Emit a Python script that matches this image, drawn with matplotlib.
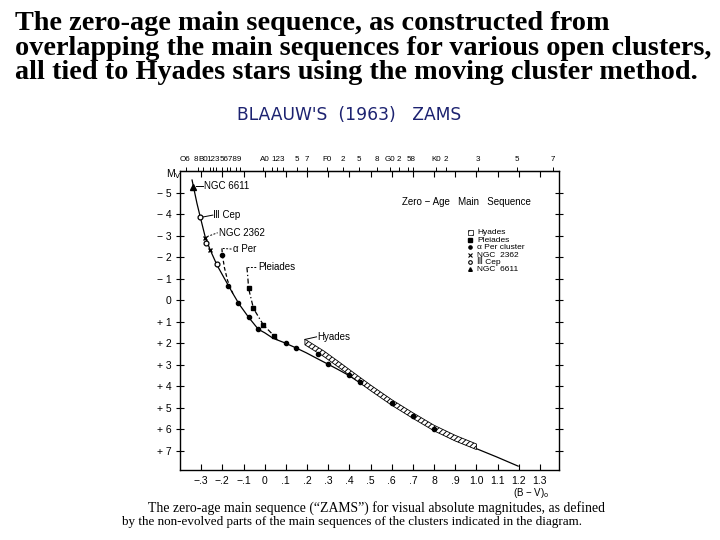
import numpy as np
import matplotlib
matplotlib.use('Agg')
from matplotlib import pyplot as plt
from matplotlib.patches import Polygon, Rectangle

# ---- data ----
# zero-age main sequence (solid line)
zams_bv = [-0.343, -0.335, -0.32, -0.304, -0.28, -0.256, -0.225, -0.19, -0.15, -0.12,
           -0.076, -0.03, 0.0, 0.04, 0.09, 0.147, 0.196, 0.246, 0.293, 0.345, 0.395,
           0.443, 0.498, 0.584, 0.686, 0.789, 0.89, 0.998, 1.095, 1.197]
zams_mv = [-5.58, -5.2, -4.5, -3.85, -2.9, -2.3, -1.62, -1.0, -0.3, 0.2,
           0.8, 1.36, 1.52, 1.78, 1.97, 2.22, 2.45, 2.71, 2.95, 3.22, 3.49,
           3.8, 4.15, 4.73, 5.35, 5.94, 6.48, 6.9, 7.29, 7.72]

# alpha Per branch (dashed)
aper_bv = [-0.202, -0.2, -0.19, -0.175, -0.15]
aper_mv = [-2.4, -2.1, -1.5, -0.9, -0.3]
aper_pts_bv = [-0.2, -0.175, -0.128, -0.076, -0.03, 0.1, 0.15, 0.25, 0.3, 0.4, 0.45, 0.6, 0.7, 0.8]
aper_pts_mv = [-2.1, -0.65, 0.12, 0.78, 1.36, 2.0, 2.22, 2.5, 2.95, 3.5, 3.8, 4.8, 5.4, 5.98]

# Pleiades branch (dash-dot)
plei_bv = [-0.084, -0.08, -0.076, -0.053, -0.006, 0.045, 0.06]
plei_mv = [-1.52, -1.1, -0.54, 0.39, 1.16, 1.67, 1.85]
plei_pts_bv = [-0.076, -0.053, -0.006, 0.045]
plei_pts_mv = [-0.54, 0.39, 1.16, 1.67]

# NGC 2362, III Cep, NGC 6611
n2362_bv = [-0.28, -0.257]
n2362_mv = [-2.9, -2.33]
cep_bv = [-0.304, -0.276, -0.225]
cep_mv = [-3.85, -2.64, -1.67]
n6611_bv = [-0.34]
n6611_mv = [-5.27]

# Hyades band (upper and lower edges)
hy_bv = [0.19, 0.28, 0.36, 0.44, 0.5, 0.6, 0.7, 0.8, 0.9, 1.0]
hy_up = [1.82, 2.37, 2.94, 3.52, 3.95, 4.63, 5.24, 5.82, 6.29, 6.69]
hy_lo = [2.08, 2.63, 3.2, 3.78, 4.21, 4.89, 5.5, 6.08, 6.55, 6.95]

# spectral types along the top: tick positions, and the (grouped) labels
sp_ticks = [-0.37, -0.315, -0.29, -0.257, -0.243, -0.229, -0.2, -0.18, -0.163, -0.134, -0.115,
            -0.007, 0.035, 0.06, 0.087, 0.153, 0.2, 0.295, 0.37, 0.446, 0.53,
            0.59, 0.634, 0.677, 0.70, 0.81, 0.856, 1.007, 1.19, 1.36]
sp_lab_pos = [-0.375, -0.325, -0.29, -0.242, -0.158, 0.0, 0.062, 0.153, 0.2, 0.295,
              0.37, 0.446, 0.53, 0.59, 0.634, 0.69, 0.81, 0.856, 1.007, 1.19, 1.36]
sp_lab = ['O6', '8', 'B0', '123', '56789', 'A0', '123', '5', '7', 'F0',
          '2', '5', '8', 'G0', '2', '58', 'K0', '2', '3', '5', '7']

bv_ticks = [round(-0.3 + 0.1 * i, 1) for i in range(17)]
bv_labels = ['\u2212.3', '\u2212.2', '\u2212.1', '0', '.1', '.2', '.3', '.4', '.5', '.6',
             '.7', '8', '.9', '1.0', '1.1', '1.2', '1.3']
mv_ticks = list(range(-5, 8))
mv_labels = ['\u2212 5', '\u2212 4', '\u2212 3', '\u2212 2', '\u2212 1', '0',
             '+ 1', '+ 2', '+ 3', '+ 4', '+ 5', '+ 6', '+ 7']

legend_names = ['Hyades', 'Pleiades', '\u03b1 Per cluster', 'NGC  2362', '\u2162 Cep', 'NGC  6611']
legend_y = [-3.15, -2.79, -2.45, -2.09, -1.78, -1.43]

sans = ['Liberation Sans Narrow', 'Liberation Sans', 'DejaVu Sans']
plt.rcParams['font.family'] = sans
plt.rcParams['hatch.linewidth'] = 0.7

fig = plt.figure(figsize=(7.2, 5.4), dpi=100)

# slide title
title_lines = ['The zero-age main sequence, as constructed from',
               'overlapping the main sequences for various open clusters,',
               'all tied to Hyades stars using the moving cluster method.']
for i, line in enumerate(title_lines):
    fig.text(15 / 720, 1 - [30, 55, 79][i] / 540, line, family='Liberation Serif',
             fontweight='bold', fontsize=20.3, va='baseline', ha='left')

# handwritten note
fig.text(237 / 720, 1 - 115 / 540, "BLAAUW'S  (1963)   ZAMS",
         color='#1c2270', fontsize=12.3, va='center', ha='left', family='DejaVu Sans')

ax = fig.add_axes([180 / 720, 70 / 540, 379 / 720, 299 / 540])
ax.set_xlim(-0.4, 1.39)
ax.set_ylim(7.9, -6.0)

ax.plot(zams_bv, zams_mv, color='black', lw=0.9)
ax.plot(aper_bv, aper_mv, color='black', lw=0.9, ls=(0, (3, 2)))
ax.plot(plei_bv, plei_mv, color='black', lw=0.9, ls=(0, (4, 2, 1, 2)))

band = Polygon(list(zip(hy_bv, hy_up)) + list(zip(hy_bv[::-1], hy_lo[::-1])),
               closed=True, facecolor='white', edgecolor='black', hatch='//////',
               lw=0.6, zorder=2.5)
ax.add_patch(band)

ax.plot(aper_pts_bv, aper_pts_mv, 'o', color='black', ms=3, zorder=3)
ax.plot(plei_pts_bv, plei_pts_mv, 's', color='black', ms=3, zorder=3)
ax.plot(n2362_bv, n2362_mv, 'x', color='black', ms=3.5, mew=1, zorder=3)
ax.plot(cep_bv, cep_mv, 'o', mfc='white', mec='black', ms=3.5, mew=0.9, zorder=3)
ax.plot(n6611_bv, n6611_mv, '^', color='black', ms=4, zorder=3)

# cluster labels with leaders
fs = 7
ax.plot([-0.325, -0.29], [-5.32, -5.32], color='black', lw=0.7)
ax.text(-0.287, -5.32, 'NGC 6611', fontsize=fs, va='center')
ax.plot([-0.298, -0.245], [-3.85, -3.95], color='black', lw=0.7)
ax.text(-0.242, -3.95, '\u2162 Cep', fontsize=fs, va='center')
ax.plot([-0.272, -0.222], [-2.95, -3.13], color='black', lw=0.7, ls=(0, (2, 1.5)))
ax.text(-0.218, -3.13, 'NGC 2362', fontsize=fs, va='center')
ax.plot([-0.198, -0.155], [-2.4, -2.37], color='black', lw=0.7, ls=(0, (2, 1.5)))
ax.text(-0.151, -2.37, '\u03b1 Per', fontsize=fs, va='center')
ax.plot([-0.084, -0.035], [-1.52, -1.52], color='black', lw=0.7, ls=(0, (2, 1.5)))
ax.text(-0.031, -1.52, 'Pleiades', fontsize=fs, va='center')
ax.plot([0.19, 0.245], [1.83, 1.71], color='black', lw=0.7)
ax.text(0.249, 1.71, 'Hyades', fontsize=fs, va='center')

ax.text(0.647, -4.57, 'Zero \u2212 Age   Main   Sequence', fontsize=7, va='center')

# legend drawn by hand as in the original
ax.add_patch(Rectangle((0.96, legend_y[0] - 0.11), 0.022, 0.22, facecolor='white',
                       edgecolor='black', hatch='////', lw=0.5))
ax.plot([0.97], [legend_y[1]], 's', color='black', ms=2.3)
ax.plot([0.97], [legend_y[2]], 'o', color='black', ms=2.3)
ax.plot([0.97], [legend_y[3]], 'x', color='black', ms=2.3, mew=0.8)
ax.plot([0.97], [legend_y[4]], 'o', mfc='white', mec='black', ms=2.6, mew=0.8)
ax.plot([0.97], [legend_y[5]], '^', color='black', ms=2.6)
for y, name in zip(legend_y, legend_names):
    ax.text(1.005, y, name, fontsize=6, va='center')

# axes, ticks
for s in ax.spines.values():
    s.set_linewidth(1.0)
ax.set_xticks(bv_ticks)
ax.set_xticklabels(bv_labels, fontsize=7.5)
ax.set_yticks(mv_ticks)
ax.set_yticklabels(mv_labels, fontsize=7.5)
ax.tick_params(axis='x', direction='in', length=4, width=0.8, top=True, pad=4)
ax.tick_params(axis='y', direction='inout', length=6, width=0.8, right=True, pad=3)

top = ax.secondary_xaxis('top')
top.set_xticks(sp_ticks)
top.set_xticklabels([])
top.tick_params(direction='out', length=3, width=0.7)
for x, lab in zip(sp_lab_pos, sp_lab):
    ax.text(x, -6.35, lab, fontsize=5.8, ha='center', va='bottom')

ax.text(-0.43, -5.85, 'M$_\\mathrm{V}$', fontsize=7.5, va='center', ha='center')
ax.text(1.26, 8.95, '(B \u2212 V)$_\\mathrm{o}$', fontsize=7, va='center', ha='center')

# caption under the diagram
fig.text(148 / 720, 1 - 508 / 540,
         'The zero-age main sequence (\u201cZAMS\u201d) for visual absolute magnitudes, as defined',
         family='Liberation Serif', fontsize=9.9, va='center', ha='left')
fig.text(122 / 720, 1 - 522 / 540,
         'by the non-evolved parts of the main sequences of the clusters indicated in the diagram.',
         family='Liberation Serif', fontsize=9.45, va='center', ha='left')

fig.savefig('out.png', dpi=100)
